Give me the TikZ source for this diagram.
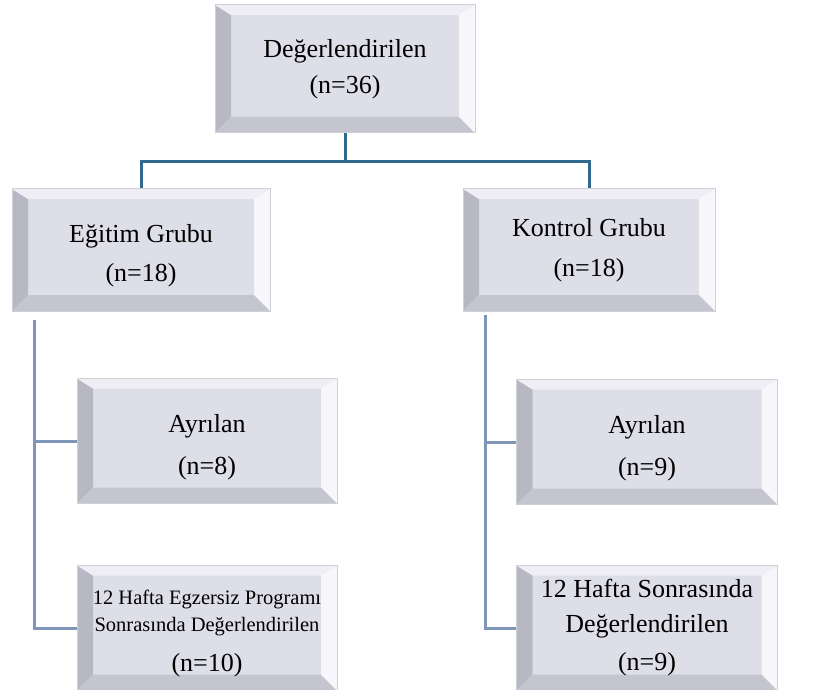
\documentclass[tikz,border=0pt]{standalone}
\usepackage{fontspec}
\setmainfont{Liberation Serif}
\usetikzlibrary{positioning}
\definecolor{yuz}{RGB}{221,222,231}
\definecolor{kenar}{RGB}{205,208,213}
\definecolor{bevsol}{RGB}{184,184,196}
\definecolor{bevalt}{RGB}{197,197,207}
\definecolor{bevust}{RGB}{238,238,244}
\definecolor{bevsag}{RGB}{247,247,251}
\definecolor{koyu}{RGB}{47,106,140}
\definecolor{acik}{RGB}{126,150,184}
\newcommand{\asagi}[1]{\rule{0pt}{#1}}
\tikzset{
  kutu/.style={rectangle, draw=kenar, line width=1pt, fill=yuz, align=center,
    minimum width=#1, minimum height=122pt, inner sep=0pt,
    font=\fontsize{26}{30}\selectfont,
    path picture={
      \fill[bevsol] (path picture bounding box.north west) -- (path picture bounding box.south west)
        -- ([shift={(16pt,16pt)}]path picture bounding box.south west)
        -- ([shift={(16pt,-10pt)}]path picture bounding box.north west) -- cycle;
      \fill[bevalt] (path picture bounding box.south west) -- (path picture bounding box.south east)
        -- ([shift={(-16pt,16pt)}]path picture bounding box.south east)
        -- ([shift={(16pt,16pt)}]path picture bounding box.south west) -- cycle;
      \fill[bevust] (path picture bounding box.north west) -- (path picture bounding box.north east)
        -- ([shift={(-16pt,-10pt)}]path picture bounding box.north east)
        -- ([shift={(16pt,-10pt)}]path picture bounding box.north west) -- cycle;
      \fill[bevsag] (path picture bounding box.north east) -- (path picture bounding box.south east)
        -- ([shift={(-16pt,16pt)}]path picture bounding box.south east)
        -- ([shift={(-16pt,-10pt)}]path picture bounding box.north east) -- cycle;
    }},
  ust/.style={draw=koyu, line width=3pt},
  alt/.style={draw=acik, line width=3pt}
}
\begin{document}
\begin{tikzpicture}[x=1pt, y=-1pt, on grid]
      \useasboundingbox (0,0) rectangle (823,690);
      \node[kutu=260pt, minimum height=128pt] (deg) at (345,69) {Değerlendirilen\\[6pt](n=36)};
      \node[kutu=258pt] (egitim) [below left=181pt and 204pt of deg] {\asagi{30pt}Eğitim Grubu\\[9pt](n=18)};
      \node[kutu=252pt] (kontrol) [below right=181pt and 244pt of deg] {Kontrol Grubu\\[10pt](n=18)};
      \node[kutu=260pt, minimum height=125pt] (ayrE) [below right=191pt and 66pt of egitim] {\asagi{30pt}Ayrılan\\[12pt](n=8)};
      \node[kutu=260pt, minimum height=125pt] (sonE) [below=187pt of ayrE]
        {{\fontsize{20.5}{27}\selectfont\asagi{26pt}12 Hafta Egzersiz Programı}\\[-3pt]{\fontsize{20.5}{27}\selectfont Sonrasında Değerlendirilen}\\[10pt](n=10)};
      \node[kutu=261pt, minimum height=125pt] (ayrK) [below right=192pt and 58pt of kontrol] {\asagi{30pt}Ayrılan\\[12pt](n=9)};
      \node[kutu=261pt, minimum height=125pt] (sonK) [below=186pt of ayrK]
        {12 Hafta Sonrasında\\[5pt]Değerlendirilen\\[8pt](n=9)};
      \draw[ust] (deg.south) -- ([yshift=-28pt]deg.south);
      \draw[ust] (egitim.north) |- ([yshift=-28pt]deg.south) -| (kontrol.north);
      \draw[alt] ([xshift=23pt,yshift=-8pt]egitim.south west) |- (sonE.west);
      \draw[alt] ([xshift=23pt,yshift=-8pt]egitim.south west) |- (ayrE.west);
      \draw[alt] ([xshift=23pt,yshift=-3pt]kontrol.south west) |- (sonK.west);
      \draw[alt] ([xshift=23pt,yshift=-3pt]kontrol.south west) |- (ayrK.west);
\end{tikzpicture}
\end{document}
